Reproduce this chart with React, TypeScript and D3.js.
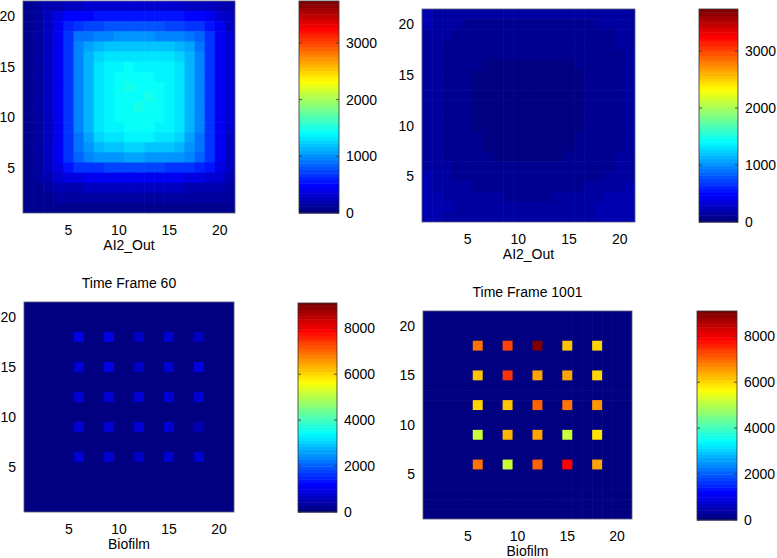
import React from "react";
import * as d3 from "d3";

// ---------- DATA ----------
const X_TICKS = [5, 10, 15, 20];
const Y_TICKS = [5, 10, 15, 20];
const GRID_N = 21;
const CB_TICKS_TOP = [0, 1000, 2000, 3000];
const CB_TICKS_BOTTOM = [0, 2000, 4000, 6000, 8000];
const CLIM_TOP = 3740;
const CLIM_BOTTOM = 9100;

// AI2_Out, early frame: rows from y=21 (top) down to y=1, columns x=1..21
const AI2_OUT_EARLY: number[][] = [
  [100, 150, 200, 230, 250, 270, 300, 320, 330, 340, 340, 340, 330, 330, 320, 310, 290, 270, 250, 230, 200],
  [100, 170, 260, 400, 470, 500, 520, 540, 550, 560, 560, 560, 560, 550, 540, 530, 500, 470, 420, 350, 270],
  [100, 170, 270, 440, 620, 680, 720, 740, 760, 770, 780, 780, 770, 760, 750, 730, 700, 650, 560, 420, 290],
  [100, 170, 270, 450, 690, 880, 930, 960, 980, 1000, 1010, 1010, 1000, 990, 980, 960, 920, 850, 680, 440, 300],
  [100, 170, 270, 450, 700, 940, 1100, 1150, 1180, 1200, 1210, 1210, 1200, 1190, 1180, 1150, 1100, 930, 700, 450, 300],
  [100, 170, 270, 450, 700, 950, 1140, 1270, 1300, 1320, 1340, 1340, 1330, 1320, 1300, 1280, 1140, 950, 700, 450, 300],
  [100, 170, 270, 450, 700, 950, 1150, 1300, 1360, 1380, 1420, 1400, 1380, 1370, 1350, 1300, 1150, 950, 700, 450, 300],
  [100, 170, 270, 450, 700, 950, 1150, 1310, 1370, 1420, 1450, 1430, 1410, 1390, 1360, 1300, 1150, 950, 700, 450, 300],
  [100, 170, 270, 450, 700, 950, 1150, 1320, 1380, 1440, 1470, 1460, 1450, 1410, 1360, 1300, 1150, 950, 700, 450, 300],
  [100, 170, 270, 450, 700, 950, 1150, 1310, 1360, 1430, 1450, 1420, 1470, 1420, 1370, 1300, 1150, 950, 700, 450, 300],
  [100, 170, 270, 450, 700, 950, 1150, 1300, 1370, 1420, 1460, 1470, 1460, 1420, 1370, 1300, 1150, 950, 700, 450, 300],
  [100, 170, 270, 450, 700, 950, 1140, 1300, 1360, 1410, 1440, 1450, 1440, 1410, 1360, 1300, 1150, 950, 700, 450, 300],
  [100, 170, 270, 450, 700, 950, 1130, 1290, 1350, 1400, 1420, 1420, 1410, 1390, 1350, 1290, 1140, 940, 700, 450, 300],
  [100, 170, 270, 450, 690, 930, 1100, 1250, 1310, 1340, 1360, 1360, 1350, 1330, 1300, 1250, 1110, 930, 690, 440, 290],
  [100, 170, 270, 440, 680, 900, 1050, 1150, 1190, 1220, 1230, 1230, 1220, 1200, 1180, 1150, 1050, 900, 680, 430, 280],
  [95, 165, 260, 420, 650, 850, 950, 1000, 1030, 1050, 1060, 1060, 1050, 1040, 1020, 1000, 950, 840, 650, 420, 270],
  [90, 150, 240, 380, 560, 650, 680, 700, 710, 720, 720, 720, 720, 710, 700, 690, 670, 630, 550, 380, 250],
  [85, 130, 200, 300, 380, 400, 410, 420, 420, 430, 430, 430, 430, 420, 420, 410, 400, 380, 350, 300, 220],
  [80, 110, 160, 200, 220, 230, 240, 240, 240, 250, 250, 250, 250, 240, 240, 240, 230, 220, 210, 190, 170],
  [70, 90, 110, 130, 140, 150, 150, 150, 160, 160, 160, 160, 160, 160, 150, 150, 150, 150, 140, 130, 120],
  [60, 70, 80, 90, 100, 100, 100, 110, 110, 110, 110, 110, 110, 110, 110, 100, 100, 100, 100, 100, 90],
];

// AI2_Out, late frame: rows from y=21 (top) down to y=1
const AI2_OUT_LATE: number[][] = [
  [180, 170, 160, 150, 140, 130, 130, 130, 130, 130, 130, 130, 130, 130, 130, 130, 140, 140, 150, 160, 170],
  [180, 160, 140, 120, 110, 100, 100, 100, 100, 100, 100, 100, 100, 100, 100, 100, 110, 120, 130, 150, 160],
  [170, 150, 120, 100, 90, 80, 75, 75, 75, 75, 75, 75, 75, 75, 75, 80, 85, 95, 110, 130, 150],
  [170, 140, 110, 90, 75, 70, 65, 65, 65, 65, 65, 65, 65, 65, 65, 70, 75, 85, 100, 120, 140],
  [170, 140, 100, 80, 70, 65, 60, 60, 60, 60, 60, 60, 60, 60, 60, 65, 70, 80, 95, 115, 135],
  [170, 140, 100, 80, 65, 60, 55, 55, 55, 55, 55, 55, 55, 55, 55, 60, 65, 75, 90, 110, 130],
  [170, 140, 100, 80, 65, 58, 52, 52, 52, 52, 52, 52, 52, 52, 52, 58, 65, 75, 90, 110, 130],
  [170, 140, 100, 80, 65, 58, 52, 50, 50, 50, 50, 50, 50, 50, 52, 58, 65, 75, 90, 110, 130],
  [170, 140, 100, 80, 65, 58, 52, 50, 50, 50, 50, 50, 50, 50, 52, 58, 65, 75, 90, 110, 130],
  [170, 140, 100, 80, 65, 58, 52, 50, 50, 50, 50, 50, 50, 50, 52, 58, 65, 75, 90, 110, 130],
  [170, 140, 100, 80, 65, 58, 52, 50, 50, 50, 50, 50, 50, 50, 52, 58, 65, 75, 90, 110, 130],
  [170, 140, 100, 80, 65, 58, 52, 50, 50, 50, 50, 50, 50, 50, 52, 58, 65, 75, 90, 110, 130],
  [170, 140, 100, 80, 65, 60, 55, 55, 55, 55, 55, 55, 55, 55, 55, 60, 65, 75, 90, 110, 130],
  [170, 140, 105, 85, 70, 62, 58, 55, 55, 55, 55, 55, 55, 55, 58, 62, 68, 80, 95, 115, 135],
  [175, 145, 110, 90, 75, 68, 62, 58, 58, 58, 58, 58, 58, 58, 62, 68, 75, 85, 100, 120, 140],
  [175, 150, 120, 100, 85, 75, 70, 65, 62, 60, 60, 60, 62, 65, 70, 75, 85, 95, 110, 130, 150],
  [180, 160, 135, 115, 100, 90, 80, 75, 70, 68, 68, 68, 70, 75, 80, 90, 100, 110, 125, 145, 165],
  [185, 170, 150, 135, 120, 110, 100, 95, 90, 88, 88, 88, 90, 95, 100, 110, 120, 135, 150, 165, 180],
  [190, 180, 170, 160, 150, 140, 130, 120, 115, 110, 110, 110, 115, 120, 130, 140, 155, 170, 185, 195, 200],
  [190, 185, 180, 175, 170, 160, 150, 140, 135, 130, 130, 130, 135, 140, 150, 160, 175, 190, 200, 205, 205],
  [185, 180, 175, 170, 165, 155, 145, 135, 130, 125, 125, 125, 130, 135, 145, 155, 170, 185, 195, 200, 200],
];

// Biofilm spots: positions along x and y
const SPOT_POS = [6, 9, 12, 15, 18];
// rows y=18 (top) .. y=6 (bottom), columns x=6..18
const BIOFILM_T60: number[][] = [
  [860, 860, 646, 719, 646],
  [790, 860, 575, 719, 933],
  [790, 790, 719, 719, 790],
  [719, 790, 719, 719, 502],
  [790, 790, 646, 719, 790],
];
const BIOFILM_T1001: number[][] = [
  [6960, 7390, 9100, 6200, 6050],
  [6150, 7530, 6530, 6450, 6100],
  [6100, 6130, 7030, 6960, 6600],
  [5120, 6380, 6530, 5120, 5830],
  [6960, 5120, 7100, 7830, 6530],
];

// ---------- HELPERS ----------
const FONT = "'Liberation Sans', Arial, Helvetica, sans-serif";

function jet(f: number): string {
  const idx = Math.max(0, Math.min(63, Math.floor(f * 64)));
  const t = idx / 63;
  const c = (x: number) => Math.max(0, Math.min(1, x));
  const r = c(Math.min(4 * t - 1.5, -4 * t + 4.5));
  const g = c(Math.min(4 * t - 0.5, -4 * t + 3.5));
  const b = c(Math.min(4 * t + 0.5, -4 * t + 2.5));
  return d3.rgb(r * 255, g * 255, b * 255).formatHex();
}

function spotsToGrid(spots: number[][]): number[][] {
  const grid: number[][] = [];
  for (let r = 0; r < GRID_N; r++) {
    const y = GRID_N - r;
    const row: number[] = [];
    for (let c = 0; c < GRID_N; c++) {
      const x = c + 1;
      const yi = SPOT_POS.indexOf(y);
      const xi = SPOT_POS.indexOf(x);
      row.push(yi >= 0 && xi >= 0 ? spots[SPOT_POS.length - 1 - yi][xi] : 0);
    }
    grid.push(row);
  }
  return grid;
}

type Box = { x: number; y: number; w: number; h: number };

function Heatmap({ box, grid, clim, xlabel, title }: { box: Box; grid: number[][]; clim: number; xlabel: string; title?: string }) {
  const xs = d3.scaleLinear().domain([0.5, GRID_N + 0.5]).range([box.x, box.x + box.w]);
  const ys = d3.scaleLinear().domain([0.5, GRID_N + 0.5]).range([box.y + box.h, box.y]);
  const cells: React.ReactNode[] = [];
  grid.forEach((row, r) => {
    const yv = GRID_N - r;
    row.forEach((v, c) => {
      const xv = c + 1;
      const x0 = xs(xv - 0.5);
      const x1 = xs(xv + 0.5);
      const y0 = ys(yv + 0.5);
      const y1 = ys(yv - 0.5);
      cells.push(
        <rect key={`${r}-${c}`} x={x0} y={y0} width={x1 - x0 + 0.6} height={y1 - y0 + 0.6} fill={jet(v / clim)} />
      );
    });
  });
  return (
    <g>
      <clipPath id={`clip-${box.x}-${box.y}`}>
        <rect x={box.x} y={box.y} width={box.w} height={box.h} />
      </clipPath>
      <g clipPath={`url(#clip-${box.x}-${box.y})`}>{cells}</g>
      <rect x={box.x} y={box.y} width={box.w} height={box.h} fill="none" stroke="#5a5a7a" strokeWidth={0.8} />
      {X_TICKS.map((t) => (
        <text key={`xt${t}`} x={xs(t)} y={box.y + box.h + 22} textAnchor="middle" fontSize={14} fontFamily={FONT} fill="#000">
          {t}
        </text>
      ))}
      {Y_TICKS.map((t) => (
        <text key={`yt${t}`} x={box.x - 8} y={ys(t) + 5} textAnchor="end" fontSize={14} fontFamily={FONT} fill="#000">
          {t}
        </text>
      ))}
      <text x={box.x + box.w / 2} y={box.y + box.h + 37} textAnchor="middle" fontSize={14} fontFamily={FONT} fill="#000">
        {xlabel}
      </text>
      {title && (
        <text x={box.x + box.w / 2} y={box.y - 14} textAnchor="middle" fontSize={14} fontFamily={FONT} fill="#000">
          {title}
        </text>
      )}
    </g>
  );
}

function Colorbar({ box, clim, ticks }: { box: Box; clim: number; ticks: number[] }) {
  const s = d3.scaleLinear().domain([0, clim]).range([box.y + box.h, box.y]);
  const levels = d3.range(64);
  return (
    <g>
      {levels.map((i) => {
        const y0 = s(((i + 1) / 64) * clim);
        const y1 = s((i / 64) * clim);
        return <rect key={i} x={box.x} y={y0} width={box.w} height={y1 - y0 + 0.5} fill={jet((i + 0.5) / 64)} />;
      })}
      <rect x={box.x} y={box.y} width={box.w} height={box.h} fill="none" stroke="#333" strokeWidth={0.8} />
      {ticks.map((t) => (
        <g key={t}>
          <line x1={box.x} x2={box.x + 3} y1={s(t)} y2={s(t)} stroke="#333" strokeWidth={0.8} />
          <line x1={box.x + box.w - 3} x2={box.x + box.w} y1={s(t)} y2={s(t)} stroke="#333" strokeWidth={0.8} />
          <text x={box.x + box.w + 7} y={s(t) + 5} fontSize={14} fontFamily={FONT} fill="#000">
            {t}
          </text>
        </g>
      ))}
    </g>
  );
}

export default function App() {
  const gridT60 = spotsToGrid(BIOFILM_T60);
  const gridT1001 = spotsToGrid(BIOFILM_T1001);
  return (
    <div style={{ position: "absolute", left: 0, top: 0 }}>
      <svg width={777} height={558} style={{ display: "block", background: "#fff" }}>
        <rect x={0} y={0} width={777} height={558} fill="#fff" />
        <Heatmap box={{ x: 23, y: 1, w: 212, h: 212 }} grid={AI2_OUT_EARLY} clim={CLIM_TOP} xlabel="AI2_Out" />
        <Colorbar box={{ x: 299, y: 1, w: 40, h: 212 }} clim={CLIM_TOP} ticks={CB_TICKS_TOP} />
        <Heatmap box={{ x: 422, y: 9, w: 213, h: 213 }} grid={AI2_OUT_LATE} clim={CLIM_TOP} xlabel="AI2_Out" />
        <Colorbar box={{ x: 699, y: 9, w: 39, h: 213 }} clim={CLIM_TOP} ticks={CB_TICKS_TOP} />
        <Heatmap box={{ x: 24, y: 302, w: 210, h: 210 }} grid={gridT60} clim={CLIM_BOTTOM} xlabel="Biofilm" title="Time Frame 60" />
        <Colorbar box={{ x: 298, y: 303, w: 39, h: 209 }} clim={CLIM_BOTTOM} ticks={CB_TICKS_BOTTOM} />
        <Heatmap box={{ x: 423, y: 311, w: 209, h: 208 }} grid={gridT1001} clim={CLIM_BOTTOM} xlabel="Biofilm" title="Time Frame 1001" />
        <Colorbar box={{ x: 697, y: 311, w: 40, h: 209 }} clim={CLIM_BOTTOM} ticks={CB_TICKS_BOTTOM} />
      </svg>
    </div>
  );
}
